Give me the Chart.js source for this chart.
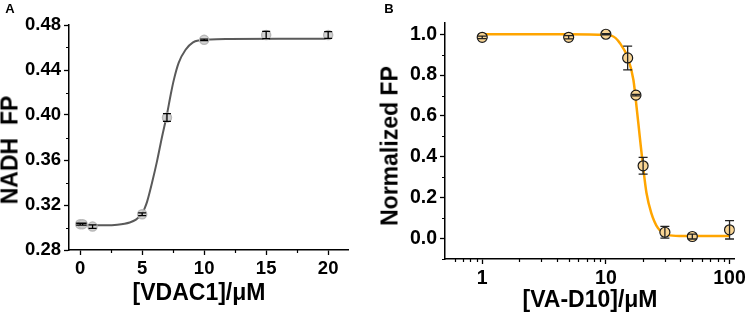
<!doctype html>
<html>
<head>
<meta charset="utf-8">
<title>NADH FP vs VDAC1 / VA-D10</title>
<style>
  body { margin: 0; background: #fff; font-family: "Liberation Sans", Arial, sans-serif; }
  .panel { position: absolute; top: 0; height: 314px; }
  .lbl { position: absolute; font-weight: bold; line-height: 1; white-space: pre; color: #000; transform: translate(-50%, -50%); }
  .rot { transform: translate(-50%, -50%) rotate(-90deg); }
</style>
</head>
<body>
<div class="panel" style="left:0;width:375px"><canvas id="chart_a"></canvas></div>
<div class="panel" style="left:375px;width:374px"><canvas id="chart_b"></canvas></div>

<div class="lbl" style="left:10px;top:8px;font-size:13px">A</div>
<div class="lbl" style="left:389px;top:8px;font-size:13px">B</div>
<div class="lbl rot" style="left:10px;top:150px;font-size:23px">NADH  FP</div>
<div class="lbl" style="left:199px;top:292px;font-size:23px">[VDAC1]/μM</div>
<div class="lbl rot" style="left:390px;top:146px;font-size:23px">Normalized FP</div>
<div class="lbl" style="left:590px;top:299px;font-size:23px">[VA-D10]/μM</div>

<script src="https://cdn.jsdelivr.net/npm/chart.js"></script>
<script>
  // panel A: NADH FP against VDAC1
  const aX = [0, 0.2, 1, 5, 7, 10, 15, 20];
  const aY = [0.3030, 0.3030, 0.3008, 0.3118, 0.3978, 0.4668, 0.4711, 0.4711];
  const aErr = [0.0008, 0.0008, 0.0015, 0.0012, 0.0035, 0.0006, 0.0032, 0.0030];
  // fitted curve
  const aCurveX = [0, 1, 2, 3, 4, 4.5, 5, 5.2, 5.4, 5.8, 6.2, 6.6, 7.0, 7.3, 7.55, 7.95, 8.5, 9.1, 9.6, 10.5, 12, 16, 20];
  const aCurveY = [0.302, 0.302, 0.302, 0.3025, 0.3045, 0.307, 0.3125, 0.317, 0.323, 0.340, 0.359, 0.3805, 0.4005,
                   0.418, 0.431, 0.4465, 0.458, 0.4645, 0.4663, 0.4672, 0.4676, 0.4678, 0.4678];
  const aXTicks = [0, 5, 10, 15, 20];
  const aXMinor = [2.5, 7.5, 12.5, 17.5];
  const aYTicks = [0.28, 0.32, 0.36, 0.40, 0.44, 0.48];
  const aYMinor = [0.30, 0.34, 0.38, 0.42, 0.46];

  // panel B: normalized FP against VA-D10
  const bX = [1, 5, 10, 15, 17.5, 20, 30, 50, 100];
  const bY = [0.985, 0.985, 1.0, 0.884, 0.702, 0.356, 0.031, 0.010, 0.043];
  const bErr = [0.006, 0.008, 0.003, 0.058, 0.004, 0.041, 0.029, 0.012, 0.045];
  const bCurveX = [1, 5, 8.7, 11.2, 13, 15.1, 16.7, 17.7, 18.8, 20, 21.3, 23.3, 26.4, 31.7, 40, 100];
  const bCurveY = [1.0, 1.0, 0.998, 0.992, 0.956, 0.882, 0.776, 0.645, 0.498, 0.351, 0.223, 0.125, 0.051,
                   0.018, 0.013, 0.012];
  const bXTicks = [1, 10, 100];
  const bXMinor = [0.6, 0.7, 0.8, 0.9, 2, 3, 4, 5, 6, 7, 8, 9, 20, 30, 40, 50, 60, 70, 80, 90];
  const bYTicks = [0.0, 0.2, 0.4, 0.6, 0.8, 1.0];
  const bYMinor = [-0.1, 0.1, 0.3, 0.5, 0.7, 0.9];

  Chart.defaults.font.family = '"Liberation Sans", Arial, sans-serif';
  Chart.defaults.font.weight = 'bold';
  Chart.defaults.color = '#000';
  Chart.defaults.animation = false;

  function pairs(xs, ys) {
    return xs.map((x, i) => ({x: x, y: ys[i]}));
  }

  function fixedTicks(values) {
    return scale => { scale.ticks = values.map(v => ({value: v})); };
  }

  const errorBars = {
    id: 'errorBars',
    afterDatasetsDraw(chart) {
      const ctx = chart.ctx;
      const ys = chart.scales.y;
      chart.data.datasets.forEach((ds, i) => {
        if (!ds.errors) return;
        const meta = chart.getDatasetMeta(i);
        const half = ds.capWidth / 2;
        ctx.save();
        ctx.strokeStyle = ds.errorColor;
        ctx.lineWidth = 1.3;
        ctx.beginPath();
        meta.data.forEach((pt, j) => {
          const v = ds.data[j].y, e = ds.errors[j];
          const top = ys.getPixelForValue(v + e);
          const bot = ys.getPixelForValue(v - e);
          ctx.moveTo(pt.x, top); ctx.lineTo(pt.x, bot);
          ctx.moveTo(pt.x - half, top); ctx.lineTo(pt.x + half, top);
          ctx.moveTo(pt.x - half, bot); ctx.lineTo(pt.x + half, bot);
        });
        ctx.stroke();
        ctx.restore();
      });
    }
  };

  // short ticks between the labelled ones
  const minorTicks = {
    id: 'minorTicks',
    afterDraw(chart, args, opts) {
      const ctx = chart.ctx;
      const xs = chart.scales.x, ys = chart.scales.y;
      ctx.save();
      ctx.strokeStyle = '#000';
      ctx.lineWidth = 1.2;
      ctx.beginPath();
      opts.x.forEach(v => {
        const px = Math.round(xs.getPixelForValue(v)) + 0.5;
        ctx.moveTo(px, xs.top); ctx.lineTo(px, xs.top + opts.len);
      });
      opts.y.forEach(v => {
        const py = Math.round(ys.getPixelForValue(v)) + 0.5;
        ctx.moveTo(ys.right, py); ctx.lineTo(ys.right - opts.len, py);
      });
      ctx.stroke();
      ctx.restore();
    }
  };

  function axis(extra, fontSize, cb) {
    return Object.assign({
      grid: { drawOnChartArea: false, tickLength: 5, tickColor: '#000', tickWidth: 1.3 },
      border: { color: '#000', width: 1.5 },
      ticks: { font: { size: fontSize }, padding: 3, maxRotation: 0, callback: cb }
    }, extra);
  }

  const chartA = new Chart(document.getElementById('chart_a'), {
    type: 'scatter',
    data: {
      datasets: [{
        data: pairs(aX, aY),
        errors: aErr,
        errorColor: '#000',
        capWidth: 8,
        pointRadius: 4.5,
        backgroundColor: 'rgba(205,205,205,0.85)',
        borderColor: '#b9b9b9',
        borderWidth: 1.5
      }, {
        data: pairs(aCurveX, aCurveY),
        showLine: true,
        pointRadius: 0,
        borderColor: '#5a5a5a',
        borderWidth: 2,
        cubicInterpolationMode: 'monotone'
      }]
    },
    options: {
      responsive: true,
      maintainAspectRatio: false,
      layout: { padding: { top: 25, right: 27, left: 0, bottom: 0 } },
      plugins: {
        legend: { display: false },
        tooltip: { enabled: false },
        minorTicks: { x: aXMinor, y: aYMinor, len: 3 }
      },
      scales: {
        x: axis({ type: 'linear', min: -0.9, max: 21.6, afterBuildTicks: fixedTicks(aXTicks),
                  afterFit: s => { s.height = 64; } }, 18.5, v => String(v)),
        y: axis({ type: 'linear', min: 0.28, max: 0.48, afterBuildTicks: fixedTicks(aYTicks),
                  afterFit: s => { s.width = 69; } }, 18.5, v => v.toFixed(2))
      }
    },
    plugins: [errorBars, minorTicks]
  });

  const chartB = new Chart(document.getElementById('chart_b'), {
    type: 'scatter',
    data: {
      datasets: [{
        data: pairs(bX, bY),
        errors: bErr,
        errorColor: '#222',
        capWidth: 9,
        pointRadius: 5,
        backgroundColor: '#f8d493',
        borderColor: '#1a1a1a',
        borderWidth: 1.2
      }, {
        data: pairs(bCurveX, bCurveY),
        showLine: true,
        pointRadius: 0,
        borderColor: '#ffa500',
        borderWidth: 2.5,
        cubicInterpolationMode: 'monotone'
      }]
    },
    options: {
      responsive: true,
      maintainAspectRatio: false,
      layout: { padding: { top: 23, right: 10.7, left: 0, bottom: 0 } },
      plugins: {
        legend: { display: false },
        tooltip: { enabled: false },
        minorTicks: { x: bXMinor, y: bYMinor, len: 3 }
      },
      scales: {
        x: axis({ type: 'logarithmic', min: 0.5, max: 110, afterBuildTicks: fixedTicks(bXTicks),
                  afterFit: s => { s.height = 55; } }, 19.5, v => String(v)),
        y: axis({ type: 'linear', min: -0.1, max: 1.055, afterBuildTicks: fixedTicks(bYTicks),
                  afterFit: s => { s.width = 70; } }, 19.5, v => v.toFixed(1))
      }
    },
    plugins: [errorBars, minorTicks]
  });
</script>
</body>
</html>
